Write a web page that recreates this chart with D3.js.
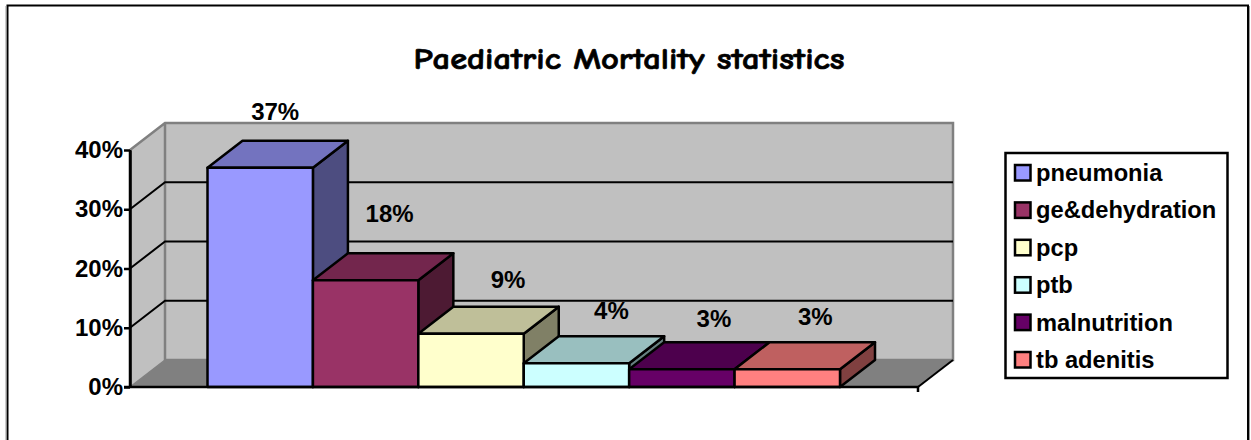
<!DOCTYPE html>
<html><head><meta charset="utf-8">
<script src="https://cdn.jsdelivr.net/npm/d3@7/dist/d3.min.js"></script>
<style>html,body{margin:0;padding:0;background:#fff;overflow:hidden}svg{display:block}</style>
</head><body><svg id="c" width="1251" height="440"></svg>
<script>
const categories = ["pneumonia","ge&dehydration","pcp","ptb","malnutrition","tb adenitis"];
const values = [37,18,9,4,3,3];
const frontColors = ["#9999ff","#993366","#ffffcc","#ccffff","#660066","#ff8080"];
const topColors = ["#7373bf","#73264d","#bfbf99","#99bfbf","#4d004d","#bf6060"];
const sideColors = ["#4d4d80","#4d1a33","#808066","#668080","#330033","#804040"];
const yTicks = [0,10,20,30,40];
const labelOffsets = [[15,-21],[24,-31],[37,-19],[35,-17],[32,-15],[28,-17]];

const svg = d3.select("#c");
const font = "'Liberation Sans',Arial,sans-serif";
const DX = 35, DY = -27;
const y = d3.scaleLinear().domain([0,40]).range([387,150]);
const x = d3.scaleBand().domain(categories).range([207.5,840]);
const X0 = 130, X1 = 918;
const poly = pts => pts.map(p=>p.join(",")).join(" ");

// chart frame
svg.append("path").attr("d","M7.5 440V5.5H1248V440").attr("fill","none").attr("stroke","#000").attr("stroke-width",2);
svg.append("path").attr("d","M6 440V6").attr("fill","none").attr("stroke","#999").attr("stroke-width",1);
svg.append("path").attr("d","M1249.5 440V6").attr("fill","none").attr("stroke","#999").attr("stroke-width",1);

svg.append("text").attr("x",629).attr("y",69).attr("text-anchor","middle")
  .attr("font-family","'Comic Sans MS','Comic Neue','DejaVu Sans',sans-serif").attr("font-weight","bold")
  .attr("font-size",30).attr("textLength",431).attr("lengthAdjust","spacingAndGlyphs").attr("fill","#000")
  .attr("stroke","#000").attr("stroke-width",0.7)
  .text("Paediatric Mortality statistics");

// walls and floor
const g = svg.append("g");
g.append("polygon").attr("points",poly([[X0+DX,y(0)+DY],[X1+DX,y(0)+DY],[X1+DX,y(40)+DY],[X0+DX,y(40)+DY]])).attr("fill","#c0c0c0");
g.append("polygon").attr("points",poly([[X0,y(0)],[X0+DX,y(0)+DY],[X0+DX,y(40)+DY],[X0,y(40)]])).attr("fill","#c0c0c0");
g.append("polygon").attr("points",poly([[X0,y(0)],[X1,y(0)],[X1+DX,y(0)+DY],[X0+DX,y(0)+DY]])).attr("fill","#808080");
// wall outlines
g.append("path").attr("d",`M${X0} ${y(40)}L${X0+DX} ${y(40)+DY}H${X1+DX}V${y(0)+DY}H${X0+DX}V${y(40)+DY}`)
  .attr("fill","none").attr("stroke","#808080").attr("stroke-width",2.5);
g.append("path").attr("d",`M${X0} ${y(0)}L${X0+DX} ${y(0)+DY}`).attr("stroke","#808080").attr("stroke-width",1.5);
// gridlines
yTicks.filter(t=>t>0&&t<40).forEach(t=>{
  g.append("path").attr("d",`M${X0} ${y(t)}L${X0+DX} ${y(t)+DY}H${X1+DX}`).attr("fill","none").attr("stroke","#000").attr("stroke-width",2);
});
// floor outer edge
g.append("path").attr("d",`M${X1} ${y(0)}L${X1+DX} ${y(0)+DY}`).attr("stroke","#000").attr("stroke-width",2);

// axes
const yAxis = d3.axisLeft(y).tickValues(yTicks).tickFormat(d=>d+"%").tickSize(6).tickSizeOuter(0).tickPadding(1);
const ya = svg.append("g").attr("transform",`translate(${X0},0)`).call(yAxis);
ya.selectAll("path,line").attr("stroke","#000").attr("stroke-width",2.5);
ya.selectAll("text").attr("font-family",font).attr("font-weight","bold").attr("font-size",24).attr("fill","#000");

// bars
const w = x.bandwidth();
const bars = svg.selectAll("g.bar").data(categories).join("g").attr("class","bar")
  .attr("stroke","#000").attr("stroke-width",2.5).attr("stroke-linejoin","round");
bars.append("polygon").attr("fill",(d,i)=>sideColors[i]).attr("points",(d,i)=>{const x2=x(d)+w,t=y(values[i]),b=y(0);
  return poly([[x2,t],[x2+DX,t+DY],[x2+DX,b+DY],[x2,b]]);});
bars.append("polygon").attr("fill",(d,i)=>topColors[i]).attr("points",(d,i)=>{const a=x(d),t=y(values[i]);
  return poly([[a,t],[a+DX,t+DY],[a+w+DX,t+DY],[a+w,t]]);});
bars.append("rect").attr("fill",(d,i)=>frontColors[i]).attr("x",d=>x(d)).attr("width",w)
  .attr("y",(d,i)=>y(values[i])).attr("height",(d,i)=>y(0)-y(values[i]));

// x axis line on top
const xAxis = svg.append("g");
xAxis.append("path").attr("d",`M${X0-6} ${y(0)}H${X1}v5`).attr("fill","none").attr("stroke","#000").attr("stroke-width",2.5);
xAxis.append("path").attr("d",`M${X0} ${y(0)}V${y(40)}`).attr("stroke","#000").attr("stroke-width",2.5);

// data labels
svg.selectAll("text.lab").data(categories).join("text").attr("class","lab")
  .attr("x",(d,i)=>x(d)+w/2+labelOffsets[i][0])
  .attr("y",(d,i)=>y(values[i])+DY+labelOffsets[i][1])
  .attr("text-anchor","middle").attr("font-family",font).attr("font-weight","bold").attr("font-size",24).attr("fill","#000")
  .text((d,i)=>values[i]+"%");

// legend
const lg = svg.append("g");
lg.append("rect").attr("x",1005.5).attr("y",153).attr("width",222).attr("height",225).attr("fill","#fff").attr("stroke","#000").attr("stroke-width",2.5);
const ly = d3.scalePoint().domain(categories).range([173,360]);
const items = lg.selectAll("g").data(categories).join("g").attr("transform",d=>`translate(0,${ly(d)})`);
items.append("rect").attr("x",1015).attr("y",-8).attr("width",15.5).attr("height",15.5)
  .attr("fill",(d,i)=>frontColors[i]).attr("stroke","#000").attr("stroke-width",2.5);
items.append("text").attr("x",1036).attr("y",8).attr("font-family",font).attr("font-weight","bold").attr("font-size",23.7).attr("fill","#000").text(d=>d);
</script></body></html>
